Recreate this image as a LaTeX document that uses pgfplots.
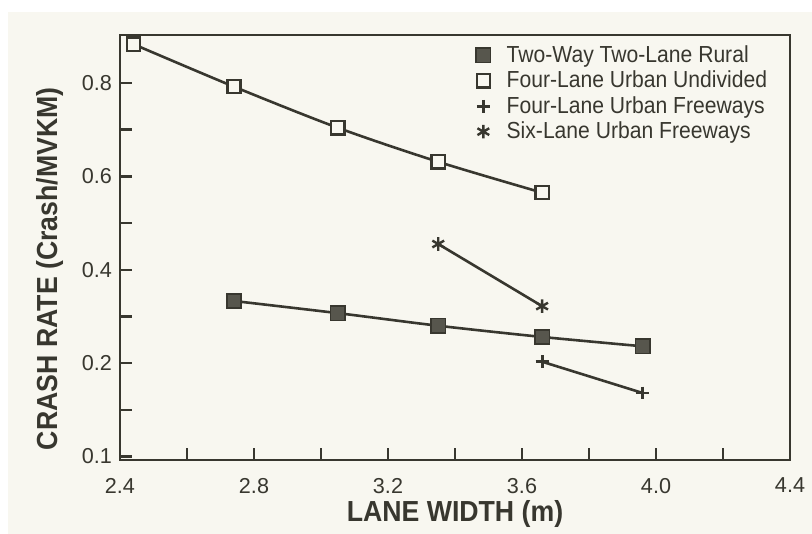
\documentclass[border=0pt]{standalone}
\usepackage{pgfplots}
\pgfplotsset{compat=1.18}
\usepackage{fontspec}
\setmainfont{Liberation Sans}
\newfontfamily\labelfont{Liberation Sans}[FakeStretch=0.92]
\newfontfamily\legfont{Liberation Sans}[FakeStretch=0.91]
\definecolor{paper}{HTML}{F8F7F0}
\definecolor{ink}{HTML}{38372F}
\definecolor{markfill}{HTML}{57564D}
\begin{document}
\begin{tikzpicture}[x=1pt,y=1pt]
\fill[white] (-60,-37) rectangle (346,230);
\fill[paper] (-56,-37) rectangle (346,224);
\begin{axis}[
  at={(0,0)}, anchor=south west,
  scale only axis, width=335pt, height=212.5pt,
  xmin=2.4, xmax=4.4, ymin=-0.0075, ymax=0.9026,
  axis line style={line width=1.4pt, draw=ink},
  tick style={line width=1.2pt, draw=ink},
  major tick length=6pt,
  tick pos=left, tick align=inside,
  xtick={2.4,2.6,2.8,3.0,3.2,3.4,3.6,3.8,4.0,4.2,4.4},
  xticklabels={2.4,,2.8,,3.2,,3.6,,4.0,,4.4},
  ytick={0,0.1,0.2,0.3,0.4,0.5,0.6,0.7,0.8},
  yticklabels={0.1,,0.2,,0.4,,0.6,,0.8},
  ticklabel style={font=\fontsize{10.8}{12}\selectfont, text=ink},
  xticklabel style={yshift=-5.5pt},
  yticklabel style={xshift=-0.5pt},
  xlabel={LANE WIDTH (m)},
  ylabel={CRASH RATE (Crash/MVKM)},
  label style={font=\labelfont\bfseries\fontsize{14.5}{16}\selectfont, text=ink},
  xlabel style={at={(axis description cs:0.5,-0.128)}, anchor=center},
  ylabel style={at={(axis description cs:-0.105,0.45)}, anchor=center},
  legend style={draw=none, fill=none, at={(axis description cs:0.522,0.995)}, anchor=north west,
    font=\legfont\fontsize{11.6}{13}\selectfont, text=ink, row sep=-1.2pt},
  legend cell align=left,
  legend image code/.code={\draw[#1,mark repeat=1] plot coordinates {(0pt,0pt)};\path (9pt,0pt);},
  every axis plot/.append style={line width=1.3pt, draw=ink, smooth, tension=0.5},
]
\addplot[mark=square*, mark size=3.6pt, mark options={fill=markfill, draw=ink, line width=0.8pt}]
  coordinates {(2.74,0.333) (3.05,0.307) (3.35,0.280) (3.66,0.256) (3.96,0.236)};
\addlegendentry{Two-Way Two-Lane Rural}
\addplot[mark=square*, mark size=3.3pt, mark options={fill=paper, draw=ink, line width=1.2pt}]
  coordinates {(2.44,0.883) (2.74,0.792) (3.05,0.704) (3.35,0.631) (3.66,0.565)};
\addlegendentry{Four-Lane Urban Undivided}
\addplot[mark=+, mark size=3.2pt, mark options={draw=ink, line width=1.4pt}]
  coordinates {(3.66,0.203) (3.96,0.136)};
\addlegendentry{Four-Lane Urban Freeways}
\addplot[mark=asterisk, mark size=3.4pt, mark options={draw=ink, line width=1.2pt}]
  coordinates {(3.35,0.455) (3.66,0.322)};
\addlegendentry{Six-Lane Urban Freeways}
\end{axis}
\pgfresetboundingbox
\path[use as bounding box] (-60,-37) rectangle (346,230);
\end{tikzpicture}
\end{document}
